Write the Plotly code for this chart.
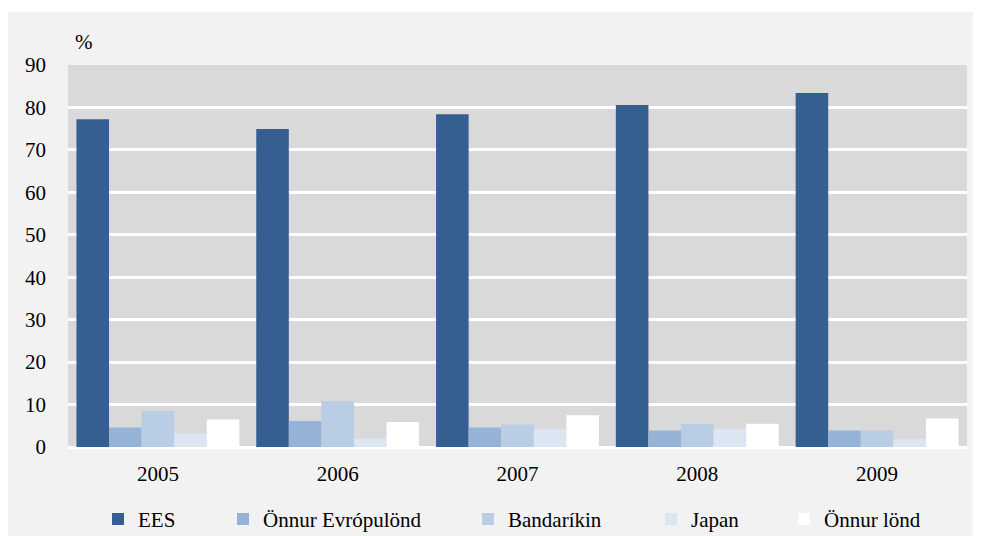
import plotly.graph_objects as go

years = ["2005", "2006", "2007", "2008", "2009"]
series_names = ["EES", "Önnur Evrópulönd", "Bandaríkin", "Japan", "Önnur lönd"]
ees = [77.2, 74.9, 78.4, 80.6, 83.4]
onnur_evropulond = [4.6, 6.1, 4.6, 3.9, 3.9]
bandarikin = [8.5, 10.8, 5.3, 5.4, 3.9]
japan = [3.2, 2.0, 4.2, 4.3, 1.8]
onnur_lond = [6.5, 5.9, 7.5, 5.5, 6.7]
y_ticks = [0, 10, 20, 30, 40, 50, 60, 70, 80, 90]

colors = ["#355f91", "#95b3d7", "#b9cde5", "#dce6f2", "#ffffff"]
values = [ees, onnur_evropulond, bandarikin, japan, onnur_lond]

W, H = 973, 528
ML, MR, MT = 60, 14, 57
PW = W - ML - MR
MB = 89.3
PH = H - MT - MB

FONT = "Liberation Serif, Times New Roman, serif"
FS = 21

fig = go.Figure()
legend_ids = ["legend", "legend2", "legend3", "legend4", "legend5"]
for name, vals, col, lid in zip(series_names, values, colors, legend_ids):
    fig.add_trace(go.Bar(
        x=years, y=vals, name=name, legend=lid,
        marker=dict(color=col, line=dict(width=0)),
    ))

# legend symbol centres (figure pixels)
sym_px = [114, 239, 484, 667, 800]
legend_y_px = 511
layout_legends = {}
for lid, sx in zip(legend_ids, sym_px):
    L = sx - 24
    layout_legends[lid] = dict(
        x=(L - ML) / PW, xanchor="left",
        y=(H - MB - legend_y_px) / PH, yanchor="middle",
        bgcolor="rgba(0,0,0,0)", borderwidth=0,
        font=dict(family=FONT, size=FS, color="#000000"),
        orientation="h",
    )

fig.update_layout(
    width=W, height=H,
    margin=dict(l=ML, r=MR, t=MT, b=MB, pad=0, autoexpand=False),
    paper_bgcolor="#f2f2f2",
    plot_bgcolor="#d9d9d9",
    barmode="group",
    bargap=0.094,
    bargroupgap=0,
    font=dict(family=FONT, size=FS, color="#000000"),
    showlegend=True,
    xaxis=dict(
        type="category",
        showgrid=False, zeroline=False, showline=False,
        ticks="", ticklabelstandoff=12,
        tickfont=dict(family=FONT, size=FS, color="#000000"),
    ),
    yaxis=dict(
        range=[0, 90],
        tickvals=y_ticks,
        showgrid=True, gridcolor="#ffffff", gridwidth=2.5,
        zeroline=True, zerolinecolor="#ffffff", zerolinewidth=2.5,
        showline=False, ticks="",
        ticklabelstandoff=21,
        tickfont=dict(family=FONT, size=FS, color="#000000"),
    ),
    annotations=[dict(
        text="%", xref="paper", yref="paper",
        x=(76 - ML) / PW, y=(H - MB - 34) / PH,
        xanchor="center", yanchor="middle", showarrow=False,
        font=dict(family=FONT, size=FS, color="#000000"),
    )],
    shapes=[dict(
        type="rect", xref="paper", yref="paper",
        x0=-ML / PW - 0.01, x1=(W - ML) / PW + 0.01,
        y0=(H - MB - 4) / PH, y1=(H - MB) / PH + 0.02,
        fillcolor="#ffffff", line=dict(width=0), layer="above",
    )],
    **layout_legends,
)

fig.write_html(
    "out.html",
    post_script="document.documentElement.style.overflow='hidden';document.body.style.overflow='hidden';",
)
